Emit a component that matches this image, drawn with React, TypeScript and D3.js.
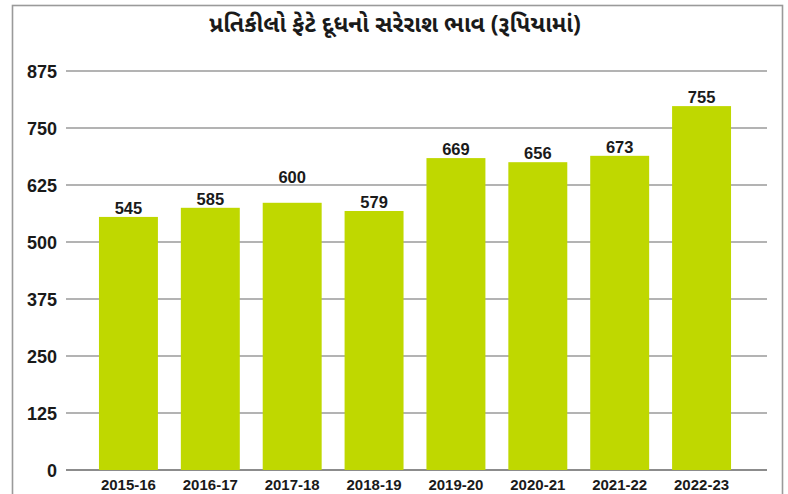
import React from "react";
import * as d3 from "d3";

const title = "પ્રતિકીલો ફેટે દૂધનો સરેરાશ ભાવ (રૂપિયામાં)";
const categories = ["2015-16", "2016-17", "2017-18", "2018-19", "2019-20", "2020-21", "2021-22", "2022-23"];
// bar heights as drawn in the picture
const barValues = [555, 575, 586, 568, 684, 675, 689, 798];
// value labels printed above bars
const valueLabels = ["545", "585", "600", "579", "669", "656", "673", "755"];
const yTicks = [0, 125, 250, 375, 500, 625, 750, 875];

const W = 788;
const H = 494;

export default function App() {
  const x = d3
    .scaleBand<string>()
    .domain(categories)
    .range([87.5, 742.5])
    .paddingInner(0.28)
    .paddingOuter(0.14);
  const y = d3.scaleLinear().domain([0, 875]).range([470, 71]);
  const gridX0 = 66;
  const gridX1 = 767;
  const extraLift: Record<string, number> = { "2017-18": 17 };
  const font = "'Liberation Sans', Arial, sans-serif";

  return (
    <svg
      width={W}
      height={H}
      style={{ position: "fixed", left: 0, top: 0, background: "#fff" }}
    >
      <rect x={0} y={0} width={W} height={H} fill="#fff" />
      <rect x={12.5} y={5.5} width={770} height={H + 10} fill="none" stroke="#9a9a9a" strokeWidth={1.6} />
      <text
        x={395}
        y={32}
        textAnchor="middle"
        fontFamily="'Noto Sans Gujarati', 'Lohit Gujarati', 'Shruti', sans-serif"
        fontWeight="bold"
        fontSize={23}
        fill="#1a1a1a"
      >
        {title}
      </text>
      {yTicks.map((t) => (
        <g key={t}>
          <line
            x1={gridX0}
            x2={gridX1}
            y1={y(t)}
            y2={y(t)}
            stroke={t === 0 ? "#8c8c8c" : "#9a9a9a"}
            strokeWidth={t === 0 ? 2 : 1.6}
          />
          <text
            x={57}
            y={y(t) + 6.5}
            textAnchor="end"
            fontFamily={font}
            fontWeight="bold"
            fontSize={18}
            fill="#1a1a1a"
          >
            {t}
          </text>
        </g>
      ))}
      {categories.map((c, i) => (
        <g key={c}>
          <rect
            x={x(c)}
            y={y(barValues[i])}
            width={x.bandwidth()}
            height={y(0) - y(barValues[i])}
            fill="#bfd800"
          />
          <text
            x={(x(c) as number) + x.bandwidth() / 2}
            y={y(barValues[i]) - 3 - (extraLift[c] || 0)}
            textAnchor="middle"
            fontFamily={font}
            fontWeight="bold"
            fontSize={16.5}
            fill="#1a1a1a"
          >
            {valueLabels[i]}
          </text>
          <text
            x={(x(c) as number) + x.bandwidth() / 2}
            y={490}
            textAnchor="middle"
            fontFamily={font}
            fontWeight="bold"
            fontSize={15}
            fill="#1a1a1a"
          >
            {c}
          </text>
        </g>
      ))}
    </svg>
  );
}
